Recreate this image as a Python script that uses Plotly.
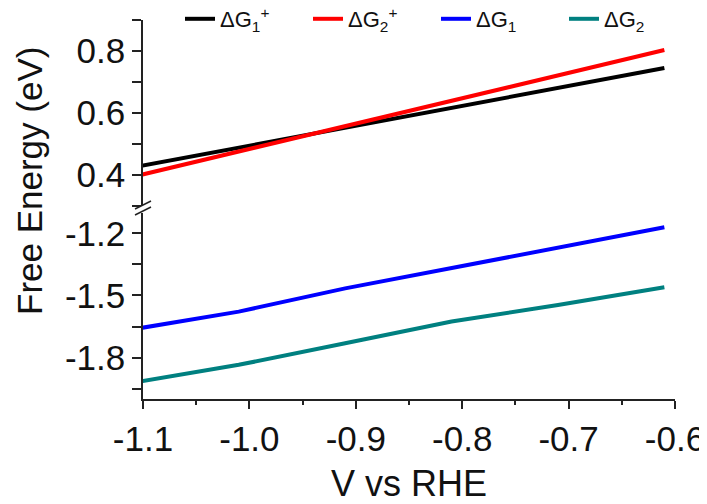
import plotly.graph_objects as go

# ---- data ----
voltage = [-1.11, -1.01, -0.91, -0.81, -0.71, -0.61]
dG1_plus = [0.424, 0.488, 0.553, 0.617, 0.681, 0.745]
dG2_plus = [0.394, 0.476, 0.558, 0.639, 0.721, 0.803]
dG1 = [-1.664, -1.578, -1.466, -1.369, -1.269, -1.171]
dG2 = [-1.922, -1.835, -1.731, -1.626, -1.546, -1.460]

x_ticks = [-1.1, -1.0, -0.9, -0.8, -0.7, -0.6]
x_ticktext = ["-1.1", "-1.0", "-0.9", "-0.8", "-0.7", "-0.6"]
yu_ticks = [0.4, 0.6, 0.8]
yu_ticktext = ["0.4", "0.6", "0.8"]
yl_ticks = [-1.8, -1.5, -1.2]
yl_ticktext = ["-1.8", "-1.5", "-1.2"]

names = ["ΔG<sub>1</sub><sup>+</sup>", "ΔG<sub>2</sub><sup>+</sup>",
         "ΔG<sub>1</sub>", "ΔG<sub>2</sub>"]
colors = ["#000000", "#ff0000", "#0000ff", "#008080"]

FONT = "Liberation Sans, Arial, sans-serif"
OFF = 8                      # page body margin
W, H = 707 - OFF, 504 - OFF
L, T = 143 - OFF, 20 - OFF
R = W - (675 - OFF)
B = H - (399 - OFF)
PW, PH = W - L - R, H - T - B


def px(xp):
    """page pixel x -> paper"""
    return (xp - OFF - L) / PW


def py(yp):
    """page pixel y -> paper"""
    return (H - B - (yp - OFF)) / PH


fig = go.Figure()
series = [(dG1_plus, "y2"), (dG2_plus, "y2"), (dG1, "y"), (dG2, "y")]
for (vals, ax), name, col in zip(series, names, colors):
    fig.add_trace(go.Scatter(x=voltage, y=vals, name=name, mode="lines",
                             yaxis=ax, line=dict(color=col, width=4)))

axcol = "#222222"
common = dict(showline=True, linecolor=axcol, linewidth=1.5, ticks="outside",
              tickcolor=axcol, tickwidth=1.5, showgrid=False, zeroline=False,
              automargin=False,
              tickfont=dict(family=FONT, size=35, color="#111"))

fig.update_layout(
    width=W, height=H,
    margin=dict(l=L, r=R, t=T, b=B, autoexpand=False),
    paper_bgcolor="white", plot_bgcolor="white",
    font=dict(family=FONT, color="#111"),
    xaxis=dict(range=[-1.1, -0.6], tickvals=x_ticks, ticktext=x_ticktext,
               ticklen=8, anchor="y",
               minor=dict(tick0=-1.05, dtick=0.1, ticklen=4, tickcolor=axcol,
                          tickwidth=1.5, ticks="outside"),
               title=dict(text="V vs RHE", font=dict(family=FONT, size=36),
                          standoff=22),
               **common),
    yaxis=dict(domain=[0, py(212.6)], range=[-2.0, -1.1],
               tickvals=yl_ticks, ticktext=yl_ticktext, ticklen=9,
               minor=dict(tick0=-1.35, dtick=0.3, ticklen=9, tickcolor=axcol,
                          tickwidth=1.5, ticks="outside"),
               anchor="x", **common),
    yaxis2=dict(domain=[py(206), 1], range=[0.3, 0.9],
                tickvals=yu_ticks, ticktext=yu_ticktext, ticklen=9,
                minor=dict(tick0=0.5, dtick=0.2, ticklen=9, tickcolor=axcol,
                           tickwidth=1.5, ticks="outside"),
                anchor="x", **common),
    showlegend=True,
    legend=dict(orientation="h", x=px(180), xanchor="left",
                y=py(19), yanchor="middle", bgcolor="rgba(0,0,0,0)",
                font=dict(family=FONT, size=22, color="#111"),
                entrywidth=83, entrywidthmode="pixels", tracegroupgap=0),
)

# y-axis title
fig.add_annotation(text="Free Energy (eV)", textangle=-90, showarrow=False,
                   xref="paper", yref="paper", x=px(29), y=py(181),
                   xanchor="center", yanchor="middle",
                   font=dict(family=FONT, size=35, color="#111"))

# axis break marks
for y0 in (209, 215):
    fig.add_shape(type="line", xref="paper", yref="paper",
                  x0=px(135), y0=py(y0), x1=px(151), y1=py(y0 - 8),
                  line=dict(color=axcol, width=1.5))

fig.write_html("out.html")
